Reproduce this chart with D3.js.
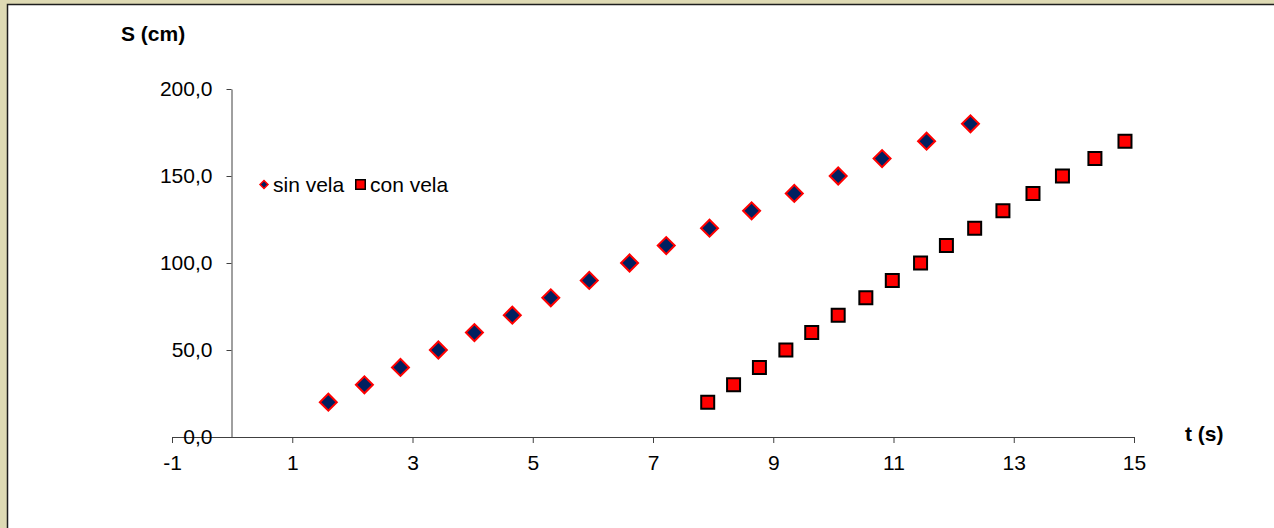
<!DOCTYPE html>
<meta charset="utf-8">
<script src="https://d3js.org/d3.v7.min.js"></script>
<style>
body { margin: 0; }
text { font-family: "Liberation Sans", Arial, Helvetica, sans-serif; }
</style>
<div id="chart"></div>
<script>
// tiempo (s) y distancia (cm)
const tSinVela = [1.60, 2.20, 2.80, 3.43, 4.03, 4.66, 5.30, 5.94, 6.61, 7.22, 7.94, 8.64, 9.35, 10.08, 10.81, 11.55, 12.28];
const sSinVela = [20, 30, 40, 50, 60, 70, 80, 90, 100, 110, 120, 130, 140, 150, 160, 170, 180];
const tConVela = [7.91, 8.34, 8.77, 9.21, 9.64, 10.08, 10.54, 10.98, 11.45, 11.88, 12.35, 12.82, 13.32, 13.81, 14.35, 14.85];
const sConVela = [20, 30, 40, 50, 60, 70, 80, 90, 100, 110, 120, 130, 140, 150, 160, 170];
const xTicks = [-1, 1, 3, 5, 7, 9, 11, 13, 15];
const yTicks = [0, 50, 100, 150, 200];
const seriesNames = ["sin vela", "con vela"];

const W = 1274, H = 528;
const fontSize = 21;

const svg = d3.select("#chart")
  .append("svg")
    .attr("width", W)
    .attr("height", H);

// fondo beige y area blanca del grafico
svg.append("rect").attr("width", W).attr("height", H).attr("fill", "#dedab4");
svg.append("rect").attr("x", 7).attr("y", 4).attr("width", W).attr("height", H).attr("fill", "#fff");
svg.append("path")
  .attr("d", `M7.5,${H} V4.5 H${W}`)
  .attr("fill", "none")
  .attr("stroke", "#1e1e1e")
  .attr("stroke-width", 1.5);

const x = d3.scaleLinear().domain([-1, 15]).range([172, 1134]);
const y = d3.scaleLinear().domain([0, 200]).range([437, 89]);

const fmt = d => d.toFixed(1).replace(".", ",");

// eje X
const gx = svg.append("g")
  .attr("transform", `translate(0,${y(0)})`)
  .call(d3.axisBottom(x).tickValues(xTicks).tickSize(6).tickSizeOuter(0).tickPadding(12).tickFormat(d => String(d)));

// eje Y
const gy = svg.append("g")
  .attr("transform", `translate(${Math.round(x(0)) - 0.5},0)`)
  .call(d3.axisLeft(y).tickValues(yTicks).tickSize(5).tickSizeOuter(0).tickPadding(14).tickFormat(fmt));

[gx, gy].forEach(g => {
  g.select(".domain").attr("stroke", "#404040");
  g.selectAll(".tick line").attr("stroke", "#404040");
  g.selectAll(".tick text")
    .attr("fill", "#000")
    .style("font-size", fontSize + "px")
    .style("font-family", '"Liberation Sans", Arial, sans-serif');
});

// titulos de ejes
svg.append("text")
  .attr("x", 121).attr("y", 40.5)
  .style("font-size", fontSize + "px")
  .style("font-weight", "bold")
  .text("S (cm)");
svg.append("text")
  .attr("x", 1185).attr("y", 440.5)
  .style("font-size", fontSize + "px")
  .style("font-weight", "bold")
  .text("t (s)");

// sin vela: rombos
const sinData = tSinVela.map((t, i) => ({t: t, s: sSinVela[i]}));
svg.append("g")
  .selectAll("path")
  .data(sinData)
  .join("path")
    .attr("d", d3.symbol(d3.symbolSquare, 144))
    .attr("transform", d => `translate(${x(d.t)},${y(d.s)}) rotate(45)`)
    .attr("fill", "#002060")
    .attr("stroke", "#ff0000")
    .attr("stroke-width", 2);

// con vela: cuadrados
const conData = tConVela.map((t, i) => ({t: t, s: sConVela[i]}));
svg.append("g")
  .selectAll("path")
  .data(conData)
  .join("path")
    .attr("d", d3.symbol(d3.symbolSquare, 169))
    .attr("transform", d => `translate(${x(d.t)},${y(d.s)})`)
    .attr("fill", "#ff0000")
    .attr("stroke", "#000")
    .attr("stroke-width", 2);

// leyenda
const legend = svg.append("g");
legend.append("path")
  .attr("d", d3.symbol(d3.symbolSquare, 32))
  .attr("transform", "translate(264,184.5) rotate(45)")
  .attr("fill", "#002060")
  .attr("stroke", "#ff0000")
  .attr("stroke-width", 1.5);
legend.append("text")
  .attr("x", 273).attr("y", 191.5)
  .style("font-size", fontSize + "px")
  .text(seriesNames[0]);
legend.append("path")
  .attr("d", d3.symbol(d3.symbolSquare, 90))
  .attr("transform", "translate(360.5,184.5)")
  .attr("fill", "#ff0000")
  .attr("stroke", "#000")
  .attr("stroke-width", 1.5);
legend.append("text")
  .attr("x", 370).attr("y", 191.5)
  .style("font-size", fontSize + "px")
  .text(seriesNames[1]);
</script>
